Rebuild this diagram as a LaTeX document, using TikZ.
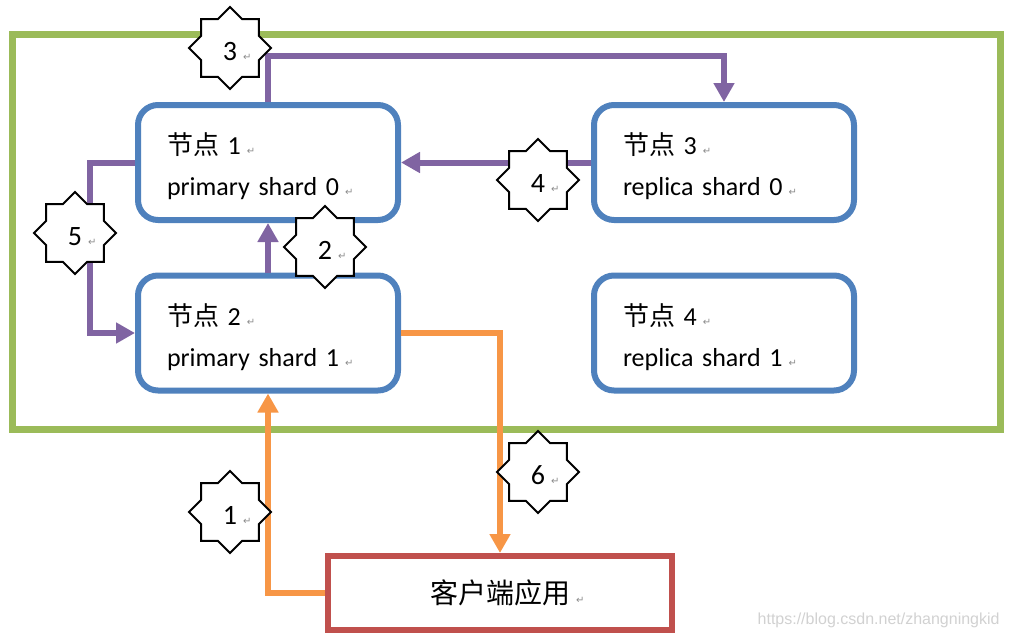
\documentclass[tikz,border=0pt]{standalone}
\usepackage{fontspec}
\setmainfont{Carlito}
\newfontfamily\cjk{Noto Sans CJK SC}
\newfontfamily\symfont{DejaVu Sans}
\newfontfamily\wmfont{Liberation Sans}
\usetikzlibrary{shapes.geometric,arrows.meta}
\definecolor{nodeblue}{HTML}{4F81BD}
\definecolor{framegreen}{HTML}{9BBB59}
\definecolor{flowpurple}{HTML}{8064A2}
\definecolor{floworange}{HTML}{F79646}
\definecolor{clientred}{HTML}{C0504D}
\def\retmark{\hspace{3pt}{\symfont\fontsize{5}{5}\selectfont\color{black!45}↵}}
\tikzset{
	shardbox/.style={draw=nodeblue, line width=3pt, rounded corners=10pt, fill=white, minimum width=130pt, minimum height=57.5pt, text width=101pt, inner xsep=14.5pt, align=left, font=\fontsize{13}{20.5}\selectfont},
	stepstar/.style={star, star points=8, star point ratio=1.307, draw=black, line width=1pt, fill=white, minimum size=41pt, inner sep=0pt, text height=12.5pt, text depth=0pt, font=\fontsize{14}{14}\selectfont},
	purpleflow/.style={color=flowpurple, line width=3pt, -{Triangle[width=10pt,length=9.5pt]}},
	orangeflow/.style={color=floworange, line width=3pt, -{Triangle[width=10pt,length=9.5pt]}}
}

\begin{document}
\begin{tikzpicture}[x=0.5pt, y=-0.5pt]
			%%%%% START %%%%%
			\useasboundingbox (0,0) rectangle (1009,638);
			
			\draw[line width=3.5pt, color=framegreen] (12,34) rectangle (1000,429.5);
			
			\node[shardbox] (n1) at (268,162.5) {\rule{0pt}{15pt}{\cjk 节点} 1\retmark\\primary shard 0\retmark};
			\node[shardbox] (n2) at (268,333) {\rule{0pt}{15pt}{\cjk 节点} 2\retmark\\primary shard 1\retmark};
			\node[shardbox] (n3) at (724,162.5) {\rule{0pt}{15pt}{\cjk 节点} 3\retmark\\replica shard 0\retmark};
			\node[shardbox] (n4) at (724,333) {\rule{0pt}{15pt}{\cjk 节点} 4\retmark\\replica shard 1\retmark};
			
			\node[draw=clientred, line width=3pt, fill=white, minimum width=172pt, minimum height=37pt, inner sep=0pt, font=\fontsize{14}{14}\selectfont] (client) at (500,593) {{\cjk 客户端应用}\rlap{\retmark}};
			
			\coordinate (c3) at (500,56);
			\coordinate (c5) at (90,250);
			
			\draw[orangeflow] (client.west) -| (n2.south);
			\draw[purpleflow] (n2.north) -- (n1.south);
			\draw[purpleflow] (n1.north) |- (c3) -| (n3.north);
			\draw[purpleflow] (n3.west) -- (n1.east);
			\draw[purpleflow] (n1.west) -| (c5) |- (n2.west);
			\draw[orangeflow] (n2.east) -| (client.north);
			
			\node[stepstar] (s1) at (230,512) {1\rlap{\retmark}};
			\node[stepstar] (s2) at (325,247) {2\rlap{\retmark}};
			\node[stepstar] (s3) at (230,48) {3\rlap{\retmark}};
			\node[stepstar] (s4) at (538,180) {4\rlap{\retmark}};
			\node[stepstar] (s5) at (75,233) {5\rlap{\retmark}};
			\node[stepstar] (s6) at (538,472) {6\rlap{\retmark}};
			
			\node[anchor=east, inner sep=0pt, color=black!18, font=\wmfont\fontsize{8}{8}\selectfont] (wm) at (1000,620) {https://blog.csdn.net/zhangningkid};
			%%%%% END %%%%%
\end{tikzpicture}
\end{document}
